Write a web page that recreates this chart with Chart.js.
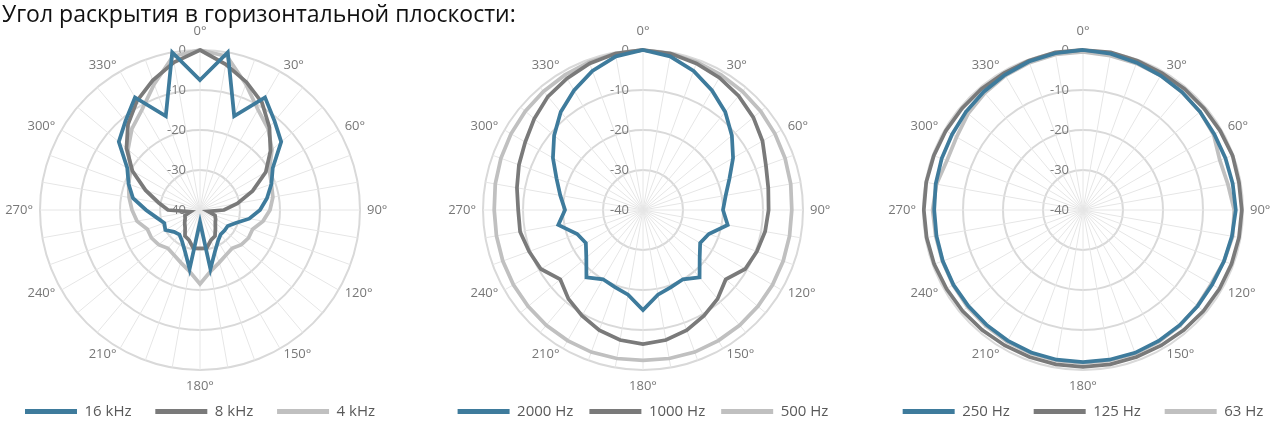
<!DOCTYPE html>
<html>
<head>
<meta charset="utf-8">
<script src="https://cdn.jsdelivr.net/npm/chart.js@4.4.1/dist/chart.umd.min.js"></script>
<style>
  html, body { margin: 0; padding: 0; background: #fff; width: 1275px; height: 426px; overflow: hidden; position: relative; }
  .title { position: absolute; left: 2px; top: 2px; font-family: 'Open Sans', sans-serif; font-size: 23px; line-height: 1; color: #111; z-index: 5; white-space: nowrap; }
  .box { position: absolute; top: 0; width: 440px; height: 429px; }
</style>
</head>
<body>
<div class="title">Угол раскрытия в горизонтальной плоскости:</div>
<div class="box" style="left:-20px"><canvas id="chartHigh"></canvas></div>
<div class="box" style="left:423px"><canvas id="chartMid"></canvas></div>
<div class="box" style="left:863px"><canvas id="chartLow"></canvas></div>
<script>
// angle labels (10° steps, only every 30° shown)
const angleLabels = [
  "0°", "", "", "30°", "", "", "60°", "", "", "90°", "", "",
  "120°", "", "", "150°", "", "", "180°", "", "", "210°", "", "",
  "240°", "", "", "270°", "", "", "300°", "", "", "330°", "", ""
];
const levelTicks = [-40, -30, -20, -10, 0];

// left chart, dB per 10°
const hz16k = [-7.5, 0, -15, -7.5, -11, -13.5, -19, -21, -23, -25, -27.5, -30.5,
  -32, -32, -32, -31, -29, -25, -37, -25, -29, -31, -32, -31.5,
  -30, -30.5, -29, -26.5, -23, -21, -19, -13.5, -11, -7.5, -15, 0];
const hz8k = [0, -3, -6, -9, -13, -17, -21, -26, -30.5, -34, -38, -36,
  -35.5, -35, -34, -32.5, -32, -30.3, -30.4, -30.3, -32, -32.5, -34.2, -35,
  -35.7, -36, -37.6, -32, -29.5, -25.5, -20.5, -16, -12, -8.5, -5.5, -2.5];
const hz4k = [0, -1, -6.5, -11, -13.5, -16.5, -20, -21, -21.5, -22.5, -24, -26,
  -26, -26.5, -27.5, -27, -26, -24.5, -21.5, -24.5, -26, -27, -27.5, -26.5,
  -26, -26, -24, -23, -22, -21, -20, -16.5, -13.5, -11, -6.5, -1];

// middle chart
const hz2000 = [0, -1, -3, -5.5, -8, -11, -14, -17, -19, -20, -18.5, -22.5,
  -23.5, -21.5, -18, -20, -19.5, -18.5, -15, -18.5, -19.5, -20, -18, -21.5,
  -23.5, -22.5, -18.5, -20.5, -19, -17, -14, -11, -8, -5.5, -3, -1];
const hz1000 = [0, -0.3, -1, -1.8, -2.8, -4, -5.5, -7.3, -8.2, -8.6, -9, -9.7,
  -10.5, -13, -11, -9.5, -8, -7, -6.5, -7, -8, -9.5, -11, -13,
  -10.5, -9.7, -8.8, -8.8, -8, -7, -6, -4.5, -3, -2, -1, -0.3];
const hz500 = [0, -0.3, -0.6, -1, -1.3, -1.6, -1.9, -2.2, -2.5, -2.8, -2.8, -2.7,
  -2.6, -2.5, -2.4, -2.3, -2.2, -2.3, -2.4, -2.3, -2.2, -2.3, -2.4, -2.5,
  -2.6, -2.7, -2.8, -2.8, -2.5, -2.2, -1.9, -1.6, -1.3, -1, -0.6, -0.3];

// right chart
const hz250 = [0, -0.3, -0.8, -1.2, -1.5, -1.8, -2.1, -2.1, -2, -1.8, -2.2, -2.5,
  -2.7, -2.6, -2.4, -2.2, -2, -2, -2, -2, -2.1, -2.3, -2.5, -2.6,
  -2.6, -2.7, -2.8, -2.8, -2.6, -2.4, -2.2, -1.8, -1.4, -1, -0.5, -0.2];
const hz125 = [0, 0, -0.3, -0.5, -0.5, -0.5, -0.4, -0.2, -0.4, -0.3, -0.4, -0.5,
  -0.6, -0.7, -0.8, -0.9, -0.9, -0.8, -0.8, -0.8, -0.9, -0.9, -0.8, -0.7,
  -0.6, -0.4, -0.3, -0.2, -0.2, -0.3, -0.4, -0.5, -0.5, -0.5, -0.3, 0];
const hz63 = [-0.5, -0.8, -1, -1.2, -1.5, -1.8, -2.3, -3.6, -3.2, -2.2, -2, -2.5,
  -3, -2.7, -2.3, -2, -1.8, -1.8, -1.8, -1.8, -1.9, -2, -2.2, -2.3,
  -2.5, -2.6, -2.6, -2.4, -2.8, -3.8, -3.5, -2.5, -1.8, -1.2, -0.8, -0.5];

const BLUE = "#3e7b9c";
const DARK = "#7a7a7a";
const LIGHT = "#c0c0c0";

Chart.defaults.font.family = "'Open Sans', sans-serif";

// level labels sit just left of the vertical spoke
const levelLabels = {
  id: "levelLabels",
  beforeDatasetsDraw(chart) {
    const r = chart.scales.r;
    const ctx = chart.ctx;
    ctx.save();
    ctx.font = "13px 'Open Sans', sans-serif";
    ctx.fillStyle = "#7a7a7a";
    ctx.textAlign = "right";
    ctx.textBaseline = "middle";
    levelTicks.forEach(v => {
      const d = r.getDistanceFromCenterForValue(v);
      ctx.fillText(String(v), r.xCenter - 14, r.yCenter - d);
    });
    ctx.restore();
  }
};

function makeSeries(label, data, color) {
  return {
    label,
    data,
    borderColor: color,
    backgroundColor: color,
    borderWidth: 3.75,
    pointRadius: 0,
    fill: false
  };
}

// gap: extra spaces after each legend entry but the last
function polarChart(id, series, gap) {
  new Chart(document.getElementById(id), {
    type: "radar",
    data: {
      labels: angleLabels,
      datasets: series
    },
    options: {
      responsive: true,
      maintainAspectRatio: false,
      animation: false,
      layout: { padding: { top: 30 } },
      elements: { line: { tension: 0 } },
      plugins: {
        tooltip: { enabled: false },
        legend: {
          position: "bottom",
          labels: {
            usePointStyle: true,
            pointStyle: "line",
            pointStyleWidth: 52,
            padding: 16,
            color: "#595959",
            font: { size: 15 },
            generateLabels(chart) {
              const items = Chart.defaults.plugins.legend.labels.generateLabels(chart);
              items.forEach((it, i) => {
                it.lineWidth = 5;
                if (i < items.length - 1) it.text += gap;
              });
              return items;
            }
          }
        }
      },
      scales: {
        r: {
          min: -40,
          max: 0,
          ticks: { stepSize: 10, display: false },
          grid: { circular: true, color: "#d9d9d9", lineWidth: 2 },
          angleLines: { color: "#e6e6e6", lineWidth: 1 },
          pointLabels: {
            color: "#777",
            font: { size: 13, lineHeight: 0 },
            padding: (ctx) => ctx.index === 0 ? 19 : (ctx.index === 18 ? 16 : 7)
          }
        }
      }
    },
    plugins: [levelLabels]
  });
}

polarChart("chartHigh", [
  makeSeries("16 kHz", hz16k, BLUE),
  makeSeries("8 kHz", hz8k, DARK),
  makeSeries("4 kHz", hz4k, LIGHT)
], "  ");
polarChart("chartMid", [
  makeSeries("2000 Hz", hz2000, BLUE),
  makeSeries("1000 Hz", hz1000, DARK),
  makeSeries("500 Hz", hz500, LIGHT)
], "");
polarChart("chartLow", [
  makeSeries("250 Hz", hz250, BLUE),
  makeSeries("125 Hz", hz125, DARK),
  makeSeries("63 Hz", hz63, LIGHT)
], "  ");
</script>
</body>
</html>
